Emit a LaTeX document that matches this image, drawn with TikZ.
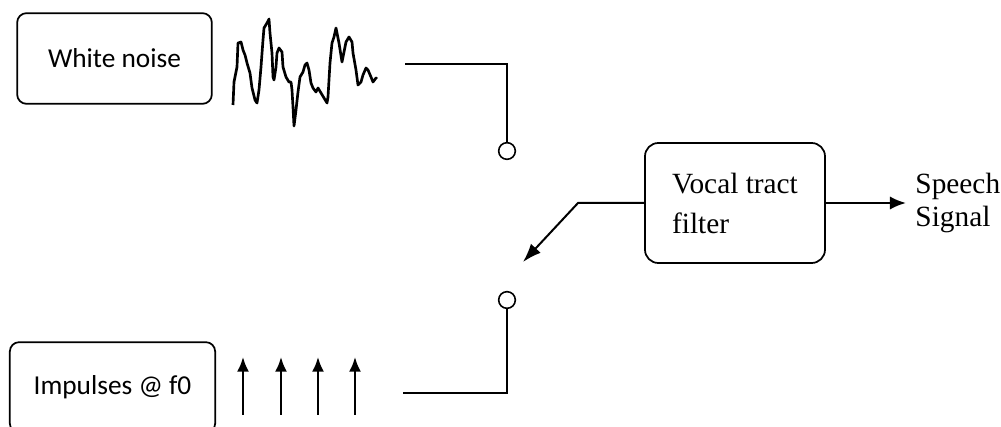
\documentclass[tikz,border=0pt]{standalone}
\usepackage{fontspec}
\setmainfont{Liberation Serif}
\newfontfamily\calibrifont{Carlito}
\usetikzlibrary{arrows.meta,positioning}
\tikzset{
  sf/source/.style={draw, rounded corners=7pt, line width=1.3pt, minimum width=146pt, minimum height=68pt, align=center, font=\calibrifont\fontsize{20.5}{24}\selectfont},
  sf/filter/.style={draw, rounded corners=10pt, line width=1.3pt, minimum width=135pt, minimum height=90pt, align=left, font=\fontsize{22}{30}\selectfont},
  sf/contact/.style={draw, circle, line width=1.2pt, inner sep=0pt, minimum size=12.5pt, fill=white},
  sf/wire/.style={line width=1.5pt},
  sf/arrow/.style={sf/wire, -{Latex[length=12pt,width=10pt]}},
  sf/pulse/.style={line width=1.7pt, -{Latex[length=11pt,width=9pt]}},
  sf/wave/.style={line width=2pt, line join=round},
  sf/outtext/.style={align=left, inner sep=2pt, font=\fontsize{22}{25}\selectfont}
}

\begin{document}
\begin{tikzpicture}[x=0.75pt, y=-0.75pt]
  \clip (0,0) rectangle (1001,427);
  % Sources
  \node[sf/source] (noise) at (114.5,58.5) {White noise};
  \node[sf/source, minimum width=154pt] (imp) at (112.5,387.5) {Impulses @ f0};

  % Filter and output
  \node[sf/filter] (filt) at (735,203) {Vocal tract\\filter};
  \node[sf/outtext, right=65pt of filt] (speech) {Speech\\Signal};
  \draw[sf/arrow, shorten >=5pt] (filt) -- (speech);

  % Switch contacts and arm
  \node[sf/contact] (swA) at (507,151) {};
  \node[sf/contact] (swB) at (507,300) {};
  \coordinate (nzend) at (405,64);
  \coordinate (imend) at (403,393);
  \coordinate (knee) at (578,203);
  \coordinate (armtip) at (523,262);
  \draw[sf/wire] (nzend) -| (swA);
  \draw[sf/wire] (imend) -| (swB);
  \draw[sf/arrow, -{Latex[length=14pt,width=10pt]}] (filt.west) -- (knee) -- (armtip);

  % Noise trace
  \draw[sf/wave] plot coordinates {
    (233,105) (234,82) (237,67) (238,43) (241,42) (243,50) (245,55) (247,63)
    (250,73) (252,88) (255,100) (257,103) (259,90) (261,67) (263,40) (264,28)
    (267,23) (269,19) (270,33) (272,53) (273,77) (274,80) (276,67) (277,53)
    (279,48) (282,52) (283,67) (286,77) (289,82) (291,82) (292,90) (293,107)
    (294,126) (296,110) (298,92) (300,77) (303,72) (305,65) (307,63) (309,70)
    (311,83) (313,88) (316,92) (318,88) (321,93) (324,98) (327,103) (328,97)
    (330,63) (332,43) (334,37) (336,28) (337,33) (339,43) (342,62) (343,57)
    (346,42) (349,37) (352,42) (353,53) (356,70) (358,85) (361,82) (363,75)
    (366,68) (368,70) (371,77) (373,82) (376,78) (377,79)};

  % Impulse train
  \foreach \x in {243,281,318,355}
    \draw[sf/pulse] (\x,415) -- (\x,357);
\end{tikzpicture}
\end{document}
